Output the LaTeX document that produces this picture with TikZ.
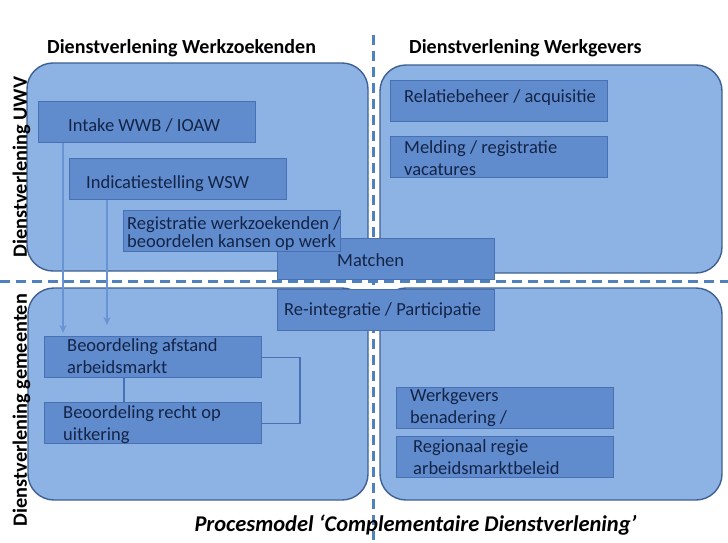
\documentclass[tikz,border=0pt]{standalone}
\usepackage{fontspec}
\setmainfont{Carlito}
\usetikzlibrary{arrows.meta}
\definecolor{panelfill}{RGB}{141,179,228}
\definecolor{paneldraw}{RGB}{62,96,146}
\definecolor{boxfill}{RGB}{96,140,205}
\definecolor{boxdraw}{RGB}{72,112,178}
\definecolor{txtc}{RGB}{20,36,72}
\definecolor{dashc}{RGB}{79,129,189}
\definecolor{arrc}{RGB}{104,148,212}
\begin{document}
\begin{tikzpicture}[x=1pt,y=-1pt,
  panel/.style={draw=paneldraw, line width=1.4pt, fill=panelfill, rounded corners=26pt},
  dashline/.style={draw=dashc, line width=3pt, dash pattern=on 10pt off 6pt},
  box/.style={draw=boxdraw, line width=1.2pt, fill=boxfill, minimum width=217pt, minimum height=41pt, inner sep=0pt, anchor=north west},
  btxt/.style={text=txtc, font=\fontsize{18.5}{21.5}\selectfont, inner sep=0pt, anchor=base west, align=left},
  head/.style={font=\bfseries\fontsize{20}{24}\selectfont, inner sep=0pt, anchor=base west},
  side/.style={font=\bfseries\fontsize{20.3}{24}\selectfont, inner sep=0pt, anchor=base, rotate=90},
  capt/.style={font=\bfseries\itshape\fontsize{22.5}{26}\selectfont, inner sep=0pt, anchor=base},
  arr/.style={draw=arrc, line width=1.4pt, -{Stealth[length=8pt,width=7pt]}},
  link/.style={draw=boxdraw, line width=1.2pt}
]
\useasboundingbox (0,0) rectangle (728,543);
\fill[white] (0,0) rectangle (728,543);

% panels
\draw[panel] (27,63) rectangle (368,271);
\draw[panel] (380,65) rectangle (722,273);
\draw[panel] (28,288) rectangle (368,500);
\draw[panel] (380,288) rectangle (722,500);

% dashed separators
\draw[dashline] (373,35) -- (373,540);
\draw[dashline] (0,281) -- (728,281);

% headers
\node[head] (hwz) at (47,53) {Dienstverlening Werkzoekenden};
\node[head] (hwg) at (409,53) {Dienstverlening Werkgevers};
\node[side] (suwv) at (27,167) {Dienstverlening UWV};
\node[side] (sgem) at (27,410) {Dienstverlening gemeenten};
\node[capt] (cap) at (415.5,531) {Procesmodel ‘Complementaire Dienstverlening’};

% boxes
\node[box] (b1) at (38,101) {};
\node[btxt] (t1) at (68,131) {Intake WWB / IOAW};
\node[box] (b2) at (69,158) {};
\node[btxt] (t2) at (86,188) {Indicatiestelling WSW};
\node[box] (b4) at (277,238) {};
\node[btxt] (t4) at (337,266) {Matchen};
\node[box] (b3) at (123,210) {};
\node[btxt, font=\fontsize{18.5}{16}\selectfont] (t3) at (127,247) {Registratie werkzoekenden /\\beoordelen kansen op werk};
\node[box] (b5) at (277,289) {};
\node[btxt] (t5) at (284,315) {Re-integratie / Participatie};
\node[box] (b6) at (390,80) {};
\node[btxt] (t6) at (404,102) {Relatiebeheer / acquisitie};
\node[box] (b7) at (390,136) {};
\node[btxt] (t7) at (404,175) {Melding / registratie\\vacatures};
\node[box] (b8) at (44,336) {};
\node[btxt] (t8) at (67,373) {Beoordeling afstand\\arbeidsmarkt};
\node[box] (b9) at (44,402) {};
\node[btxt] (t9) at (63,440) {Beoordeling recht op\\uitkering};
\node[box] (b10) at (396,387) {};
\node[btxt] (t10) at (410,423) {Werkgevers\\benadering /};
\node[box] (b11) at (396,436) {};
\node[btxt] (t11) at (413,474) {Regionaal regie\\arbeidsmarktbeleid};

% connectors
\coordinate (xa) at (63,0);
\coordinate (xb) at (107,0);
\coordinate (xc) at (124,0);
\coordinate (xr) at (300,0);
\draw[arr] (b1.south -| xa) -- ([yshift=3pt]b8.north -| xa);
\draw[arr] (b2.south -| xb) -- ([yshift=11pt]b8.north -| xb);
\draw[link] (b8.south -| xc) -- (b9.north -| xc);
\draw[link] (b8.east) -- (b8.east -| xr) -- (b9.east -| xr) -- (b9.east);
\end{tikzpicture}
\end{document}
